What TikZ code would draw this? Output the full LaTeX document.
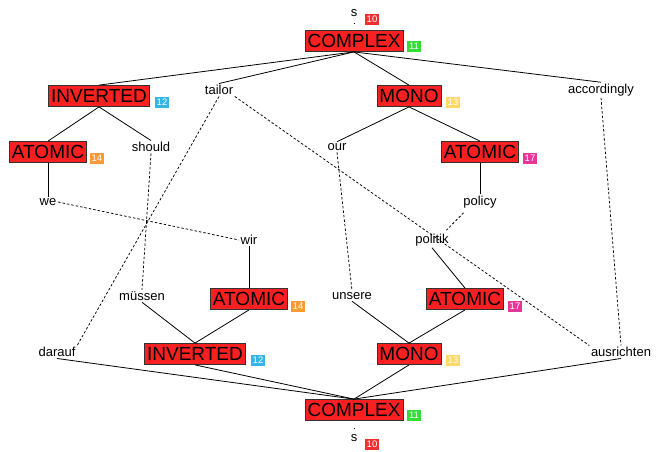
\documentclass[tikz,border=0pt]{standalone}
\usepackage{fontspec}
\setmainfont{Liberation Sans}
\usetikzlibrary{calc}
\begin{document}
\begin{tikzpicture}[x=1pt,y=-1pt,
  cat/.style={draw=black!80, fill=myred, line width=0.8pt, inner sep=2.5pt, minimum height=21pt, font=\fontsize{19}{20}\selectfont},
  word/.style={inner sep=1.5pt, font=\fontsize{13}{14}\selectfont},
  tag/.style={draw=#1, fill=#1, text=white, inner sep=0.8pt, font=\fontsize{9.5}{10}\selectfont, minimum width=13pt, minimum height=10.5pt},
  link/.style={line width=0.8pt},
  align/.style={dashed, dash pattern=on 2.5pt off 2pt, line width=0.75pt}]
\definecolor{myred}{HTML}{F82020}
\definecolor{tred}{HTML}{F03030}
\definecolor{tgreen}{HTML}{33DD33}
\definecolor{tblue}{HTML}{33B5E8}
\definecolor{tyellow}{HTML}{FFD966}
\definecolor{torange}{HTML}{FF9933}
\definecolor{tmag}{HTML}{E8359A}
\useasboundingbox (0,0) rectangle (656,451);

% top tree
\node[word] (s1) at (354,13) {s};
\node[tag=tred] (t1) at (372,19) {10};
\node[cat] (c1) at (354,41) {COMPLEX};
\node[tag=tgreen] (t2) at (414,46) {11};
\node[cat] (inv1) at (99,96) {INVERTED};
\node[tag=tblue] (t3) at (162,102) {12};
\node[word] (tailor) at (219,90) {tailor};
\node[cat] (mono1) at (409,96) {MONO};
\node[tag=tyellow] (t4) at (453,102) {13};
\node[word] (accordingly) at (601,90) {accordingly};
\node[cat] (at1) at (48,152) {ATOMIC};
\node[tag=torange] (t5) at (97,158) {14};
\node[word] (should) at (151,147) {should};
\node[word] (our) at (337,147) {our};
\node[cat] (at2) at (480,152) {ATOMIC};
\node[tag=tmag] (t6) at (530,158) {17};
\node[word] (we) at (48,202) {we};
\node[word] (policy) at (480,202) {policy};

% bottom tree
\node[word] (wir) at (249,240) {wir};
\node[word] (politik) at (432,240) {politik};
\node[word] (muessen) at (142,296) {müssen};
\node[cat] (at3) at (249,299) {ATOMIC};
\node[tag=torange] (t7) at (298,306) {14};
\node[word] (unsere) at (352,296) {unsere};
\node[cat] (at4) at (465,299) {ATOMIC};
\node[tag=tmag] (t8) at (515,306) {17};
\node[word] (darauf) at (57,352) {darauf};
\node[cat] (inv2) at (195,354) {INVERTED};
\node[tag=tblue] (t9) at (258,360) {12};
\node[cat] (mono2) at (409,354) {MONO};
\node[tag=tyellow] (t10) at (453,360) {13};
\node[word] (ausrichten) at (621,352) {ausrichten};
\node[cat] (c2) at (354,410) {COMPLEX};
\node[tag=tgreen] (t11) at (414,415) {11};
\node[word] (s2) at (354,438) {s};
\node[tag=tred] (t12) at (372,444) {10};

% short stubs between s and COMPLEX
\coordinate (d1a) at (354,22.5); \coordinate (d1b) at (354,23.5);
\coordinate (d2a) at (354,427.5); \coordinate (d2b) at (354,428.5);
\draw[link] (d1a) -- (d1b);
\draw[link] (d2a) -- (d2b);

% solid links top
\draw[link] (c1.south) -- (inv1.north);
\draw[link] (c1.south) -- (tailor.north);
\draw[link] (c1.south) -- (mono1.north);
\draw[link] (c1.south) -- (accordingly.north);
\draw[link] (inv1.south) -- (at1.north);
\draw[link] (inv1.south) -- (should.north);
\draw[link] (mono1.south) -- (our.north);
\draw[link] (mono1.south) -- (at2.north);
\draw[link] (at1.south) -- (we.north);
\draw[link] (at2.south) -- (policy.north);

% solid links bottom
\draw[link] (wir.south) -- (at3.north);
\draw[link] (muessen.south) -- (inv2.north);
\draw[link] (at3.south) -- (inv2.north);
\draw[link] (politik.south) -- (at4.north);
\draw[link] (unsere.south) -- (mono2.north);
\draw[link] (at4.south) -- (mono2.north);
\draw[link] (darauf.south) -- (c2.north);
\draw[link] (inv2.south) -- (c2.north);
\draw[link] (mono2.south) -- (c2.north);
\draw[link] (ausrichten.south) -- (c2.north);

% alignments
\draw[align] (tailor.south) -- (darauf.north east);
\draw[align] (tailor.south east) -- (ausrichten.north west);
\draw[align] (accordingly.south) -- (ausrichten.north);
\draw[align] (should.south) -- (muessen.north);
\draw[align] (we.east) -- (wir.west);
\draw[align] (our.south) -- (unsere.north);
\draw[align] ($(policy.south west)+(2,3)$) -- ($(politik.north east)+(-4,-2)$);
\end{tikzpicture}
\end{document}
